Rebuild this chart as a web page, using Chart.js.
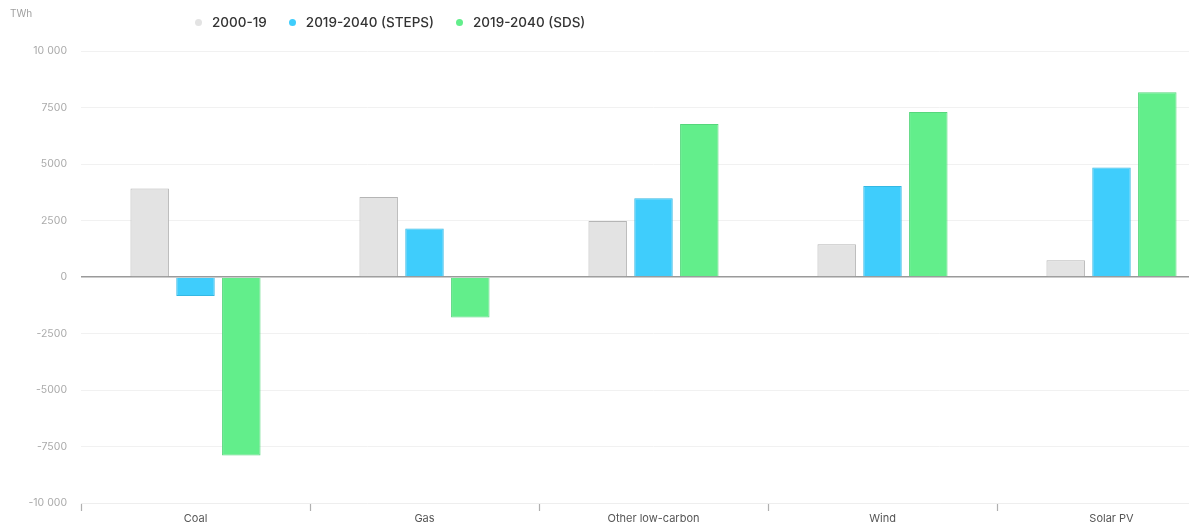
<!DOCTYPE html>
<html>
<head>
<meta charset="utf-8">
<script src="https://cdn.jsdelivr.net/npm/chart.js@4.4.1/dist/chart.umd.min.js"></script>
<style>
  html, body { margin: 0; padding: 0; background: #fff; overflow: hidden; }
  body { width: 1189px; height: 529px; position: relative; font-family: Inter, "Open Sans", sans-serif; }
  .wrap { position: absolute; left: 0; top: 0; width: 1228px; height: 529px; }
  .unit { position: absolute; left: 10px; top: 7px; font-size: 10px; color: #a0a0a0; }
  .legend { position: absolute; left: 195px; top: 13px; display: flex; align-items: center; font-size: 13.5px; font-weight: 500; color: #333; line-height: 18px; }
  .legend span.item { display: flex; align-items: center; margin-right: 22px; }
  .legend i { display: inline-block; width: 7px; height: 7px; border-radius: 50%; margin-right: 10px; }
</style>
</head>
<body>
<div class="wrap"><canvas id="chart"></canvas></div>
<div class="unit">TWh</div>
<div class="legend" id="legend"></div>
<script>
// categories + series (TWh change)
const categories = ['Coal', 'Gas', 'Other low-carbon', 'Wind', 'Solar PV']
const hist_2000_19 = [3920, 3540, 2480, 1450, 740]
const steps_2019_40 = [-840, 2150, 3480, 4030, 4850]
const sds_2019_40 = [-7900, -1790, 6770, 7300, 8170]
const series_names = ['2000-19', '2019-2040 (STEPS)', '2019-2040 (SDS)']
const y_ticks = [10000, 7500, 5000, 2500, 0, -2500, -5000, -7500, -10000]

const fills = ['#e3e3e3', '#3fcdfc', '#62ee8b']
const borders = ['#b5b5b5', '#34b8e3', '#55d77b']

// html legend
const legend = document.getElementById('legend')
series_names.forEach((name, i) => {
    const item = document.createElement('span')
    item.className = 'item'
    item.innerHTML = '<i style="background:' + fills[i] + '"></i>' + name
    legend.appendChild(item)
})

const ctx = document.getElementById('chart')

new Chart(ctx, {
  type: 'bar',
  data: {
    labels: categories,
    datasets: [hist_2000_19, steps_2019_40, sds_2019_40].map((d, i) => ({
      label: series_names[i],
      data: d,
      backgroundColor: fills[i],
      borderColor: borders[i],
      borderWidth: 1,
      categoryPercentage: 0.6,
      barPercentage: 0.84
    }))
  },
  options: {
    responsive: true,
    maintainAspectRatio: false,
    animation: false,
    layout: { padding: { top: 51, right: 2, left: 0, bottom: 0 } },
    plugins: {
      legend: { display: false },
      tooltip: { enabled: false }
    },
    scales: {
      x: {
        grid: {
          drawOnChartArea: false,
          drawTicks: true,
          tickLength: 8,
          tickColor: '#b0b0b0',
          tickWidth: 1.2
        },
        border: { display: true, color: '#eeeeee' },
        ticks: { color: '#555', font: { size: 11, family: 'Inter, "Open Sans", sans-serif' }, padding: 1 },
        afterFit: s => { s.height = 26 }
      },
      y: {
        min: -10000,
        max: 10000,
        afterBuildTicks: s => { s.ticks = y_ticks.map(v => ({ value: v })) },
        grid: {
          drawTicks: false,
          color: c => c.tick && c.tick.value === 0 ? '#9a9a9a' : '#f1f1f1',
          lineWidth: c => c.tick && c.tick.value === 0 ? 1.5 : 1
        },
        border: { display: false },
        ticks: {
          color: '#aaaaaa',
          font: { size: 10.5, family: 'Inter, "Open Sans", sans-serif' },
          padding: 14,
          callback: v => Math.abs(v) >= 10000 ? (v < 0 ? '-' : '') + '10 000' : String(v)
        },
        afterFit: s => { s.width = 81 }
      }
    }
  }
});
</script>
</body>
</html>
